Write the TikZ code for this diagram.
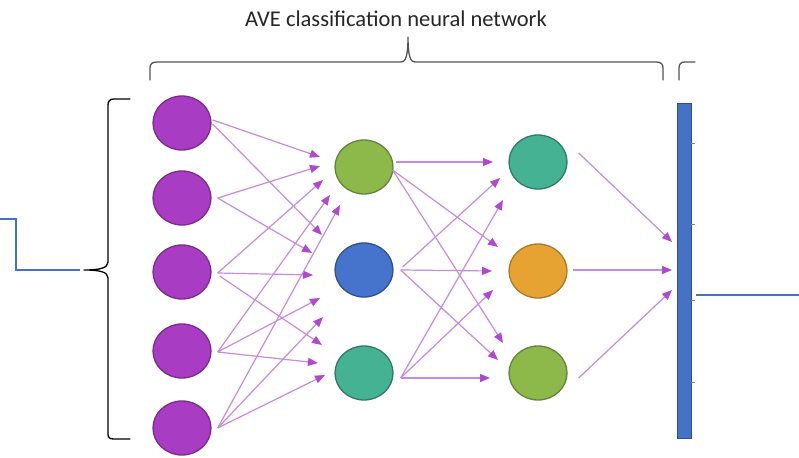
\documentclass[tikz,border=0pt]{standalone}
\usepackage{fontspec}
\setmainfont{Carlito}
\usetikzlibrary{shapes.geometric,arrows.meta}
\definecolor{purp}{HTML}{A83DC4}
\definecolor{purpd}{HTML}{7A2A8C}
\definecolor{grn}{HTML}{8DB84A}
\definecolor{grnd}{HTML}{64843A}
\definecolor{blu}{HTML}{4674CC}
\definecolor{blud}{HTML}{2F4F8F}
\definecolor{tea}{HTML}{45B294}
\definecolor{tead}{HTML}{2E7A66}
\definecolor{org}{HTML}{E6A332}
\definecolor{orgd}{HTML}{A87A2A}
\definecolor{arrline}{HTML}{C78BDE}
\definecolor{arrtip}{HTML}{B048D4}
\definecolor{linkblue}{HTML}{4472C4}
\definecolor{bracegray}{HTML}{555555}
\tikzset{
  neuron/.style={ellipse, minimum width=58pt, minimum height=54pt, inner sep=0pt, line width=1.3pt},
  arr/.style={draw=arrline, line width=1.2pt, -{Triangle[length=10pt,width=8pt,color=arrtip]}},
  link/.style={draw=linkblue, line width=1.8pt},
  bracepen/.style={line width=1.3pt, line join=round, line cap=round},
  tick/.style={draw=gray, line width=0.6pt}
}
\begin{document}
\begin{tikzpicture}[x=1pt,y=-1pt]
\useasboundingbox (0,0) rectangle (799,457);
\fill[white] (0,0) rectangle (799,457);

% title and top brace
\node[font=\fontsize{22.5}{24}\selectfont, text=black!85] (title) at (396,19) {AVE classification neural network};
\draw[bracepen, draw=bracegray] (150,80) -- (150,68) .. controls (150,64) and (152,62) .. (157,62) -- (401,62)
  .. controls (405,62) and (408,58) .. (408,37) .. controls (408,58) and (411,62) .. (415,62)
  -- (656,62) .. controls (661,62) and (663,64) .. (663,68) -- (663,80);
\draw[bracepen, draw=bracegray] (679,80) -- (679,68) .. controls (679,64) and (681,62) .. (685,62) -- (695,62);

% left brace
\draw[bracepen, draw=black] (130,99) -- (114,99) .. controls (110,99) and (108,101) .. (108,105) -- (108,262)
  .. controls (108,268) and (100,270) .. (84,270) .. controls (100,270) and (108,272) .. (108,278)
  -- (108,434) .. controls (108,438) and (110,439) .. (114,439) -- (130,439);

% input layer
\node[neuron, fill=purp, draw=purpd] (i1) at (182,123) {};
\node[neuron, fill=purp, draw=purpd] (i2) at (182,198) {};
\node[neuron, fill=purp, draw=purpd] (i3) at (182,272) {};
\node[neuron, fill=purp, draw=purpd] (i4) at (182,351) {};
\node[neuron, fill=purp, draw=purpd] (i5) at (182,428) {};

% first hidden layer
\node[neuron, fill=grn, draw=grnd] (h1) at (364,167) {};
\node[neuron, fill=blu, draw=blud] (h2) at (364,270) {};
\node[neuron, fill=tea, draw=tead] (h3) at (364,373) {};

% second hidden layer
\node[neuron, fill=tea, draw=tead] (g1) at (538,162) {};
\node[neuron, fill=org, draw=orgd] (g2) at (538,271) {};
\node[neuron, fill=grn, draw=grnd] (g3) at (538,373) {};

% output bar
\node[rectangle, fill=linkblue, draw=blud, line width=0.8pt, minimum width=14pt, minimum height=335pt, inner sep=0pt] (out) at (684,270.5) {};
\foreach \yy in {143,224,300,382} \draw[tick] (691,\yy) -- (695,\yy);

% arrow heads into the first hidden layer
\coordinate (a11) at (320,157);
\coordinate (a12) at (320,166);
\coordinate (a13) at (323,180);
\coordinate (a14) at (330,195);
\coordinate (a15) at (340,205);
\coordinate (a21) at (322,235);
\coordinate (a22) at (312,253);
\coordinate (a23) at (313,275);
\coordinate (a31) at (320,298);
\coordinate (a32) at (323,317);
\coordinate (a33) at (322,345);
\coordinate (a34) at (318,363);
\coordinate (a35) at (325,375);

\draw[arr] ([shift={(1,-3)}]i1.east) -- (a11);
\draw[arr] ([shift={(1,1)}]i1.east) -- (a21);
\draw[arr] ([shift={(6,0)}]i2.east) -- (a12);
\draw[arr] ([shift={(6,0)}]i2.east) -- (a22);
\draw[arr] ([shift={(6,1)}]i3.east) -- (a13);
\draw[arr] ([shift={(6,1)}]i3.east) -- (a23);
\draw[arr] ([shift={(8,4)}]i3.east) -- (a33);
\draw[arr] ([shift={(6,1)}]i4.east) -- (a14);
\draw[arr] ([shift={(6,1)}]i4.east) -- (a31);
\draw[arr] ([shift={(6,1)}]i4.east) -- (a34);
\draw[arr] ([shift={(6,0)}]i5.east) -- (a15);
\draw[arr] ([shift={(6,0)}]i5.east) -- (a32);
\draw[arr] ([shift={(6,0)}]i5.east) -- (a35);

% arrow heads into the second hidden layer
\coordinate (b11) at (493,162);
\coordinate (b12) at (500,178);
\coordinate (b13) at (503,200);
\coordinate (b21) at (498,247);
\coordinate (b22) at (492,271);
\coordinate (b23) at (493,290);
\coordinate (b31) at (503,343);
\coordinate (b32) at (498,360);
\coordinate (b33) at (490,378);

\draw[arr] ([shift={(2,-5)}]h1.east) -- (b11);
\draw[arr] ([shift={(-1,3)}]h1.east) -- (b21);
\draw[arr] ([shift={(-1,3)}]h1.east) -- (b31);
\draw[arr] ([shift={(7,0)}]h2.east) -- (b22);
\draw[arr] ([shift={(9,-3)}]h2.east) -- (b12);
\draw[arr] ([shift={(7,0)}]h2.east) -- (b32);
\draw[arr] ([shift={(7,5)}]h3.east) -- (b33);
\draw[arr] ([shift={(7,5)}]h3.east) -- (b13);
\draw[arr] ([shift={(7,5)}]h3.east) -- (b23);

% arrow heads into the output bar
\coordinate (c1) at (672,242);
\coordinate (c2) at (672,270);
\coordinate (c3) at (672,290);
\draw[arr] ([shift={(11,-9)}]g1.east) -- (c1);
\draw[arr] ([shift={(5,-1)}]g2.east) -- (c2);
\draw[arr] ([shift={(11,5)}]g3.east) -- (c3);

% blue links
\coordinate (lin) at (0,219);
\coordinate (rout) at (799,295);
\draw[link] (lin) -- (16,219) -- (16,270) -- (80,270);
\draw[link] ([xshift=5pt]out.east |- 0,295) -- (rout);
\end{tikzpicture}
\end{document}
